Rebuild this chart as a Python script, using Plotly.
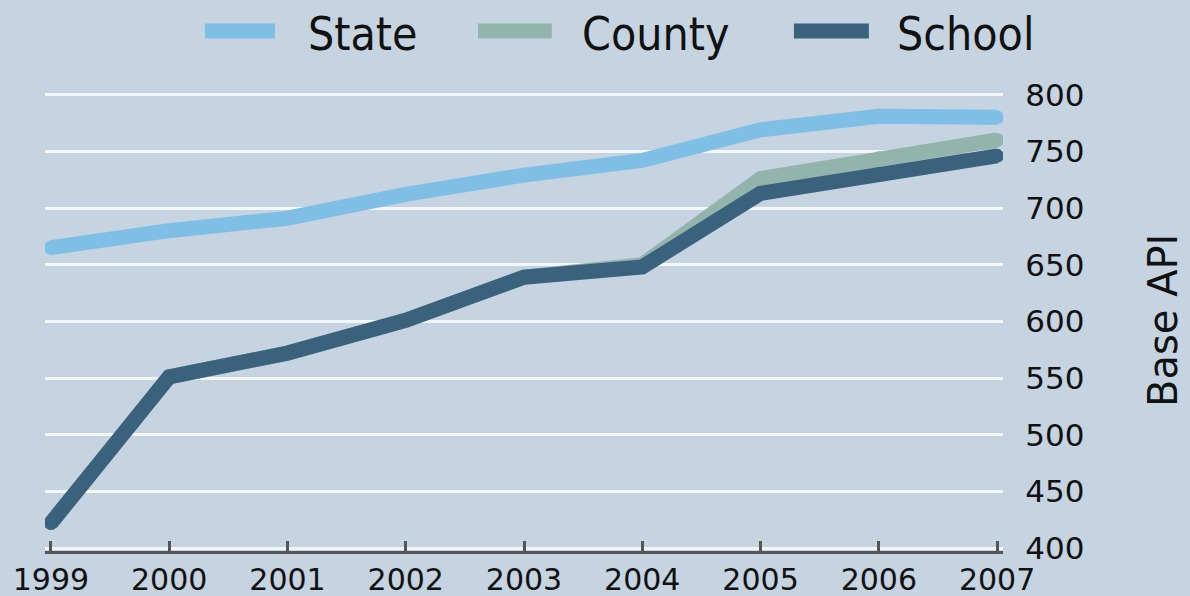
import plotly.graph_objects as go

years = [1999, 2000, 2001, 2002, 2003, 2004, 2005, 2006, 2007]
state = [665, 680, 691, 712, 729, 742, 769, 781, 780]
county = [422, 551, 572, 601, 639, 650, 726, 744, 760]
school = [422, 551, 572, 601, 639, 648, 713, 730, 746]
series_names = ["State", "County", "School"]
series_colors = ["#7fbfe6", "#93b3ad", "#3b627c"]
y_ticks = [400, 450, 500, 550, 600, 650, 700, 750, 800]

BG = "#c6d3e0"
fig = go.Figure()
for name, vals, col in zip(series_names, [state, county, school], series_colors):
    fig.add_trace(go.Scatter(
        x=years, y=vals, name=name, mode="lines+markers",
        line=dict(color=col, width=15),
        marker=dict(color=col, size=14, line=dict(width=0)),
        showlegend=False, hoverinfo="skip"))

# manual legend
sw = [(0.167, 0.240, 0.2724), (0.452, 0.529, 0.5585), (0.7818, 0.860, 0.8873)]
for (x0, x1, tx), name, col in zip(sw, series_names, series_colors):
    fig.add_shape(type="line", xref="paper", yref="paper", x0=x0, x1=x1,
                  y0=1.1255, y1=1.1255, line=dict(color=col, width=15))
    fig.add_annotation(xref="paper", yref="paper", x=tx, y=1.118, text=name,
                       showarrow=False, xanchor="left", yanchor="middle",
                       font=dict(family="DejaVu Sans Condensed, DejaVu Sans", size=46, color="#111"))

fig.add_annotation(xref="paper", yref="paper", x=1.167, y=0.5, text="Base API",
                   textangle=-90, showarrow=False, xanchor="center", yanchor="middle",
                   font=dict(family="DejaVu Sans", size=40, color="#111"))

fig.update_layout(
    width=1190, height=596,
    margin=dict(l=45, r=187, t=89, b=45, autoexpand=False),
    paper_bgcolor=BG, plot_bgcolor=BG,
    showlegend=False,
    xaxis=dict(range=[1998.95, 2007.05], tickmode="array", tickvals=years,
               ticktext=[str(y) for y in years], showgrid=False, zeroline=False,
               automargin=False,
               showline=True, linecolor="#555", linewidth=3,
               ticks="inside", ticklen=10, tickwidth=3, tickcolor="#555",
               tickfont=dict(family="DejaVu Sans", size=30, color="#111")),
    yaxis=dict(range=[397.4, 805], side="right", tickmode="array", tickvals=y_ticks,
               automargin=False,
               showgrid=True, gridcolor="#f4f7fa", gridwidth=3, zeroline=False,
               showline=False, ticks="outside", ticklen=15, tickcolor="rgba(0,0,0,0)",
               tickfont=dict(family="DejaVu Sans", size=31, color="#111")),
)
fig.write_html("out.html", config={"displayModeBar": False},
               post_script="document.body.style.margin='0';document.body.style.overflow='hidden';")
